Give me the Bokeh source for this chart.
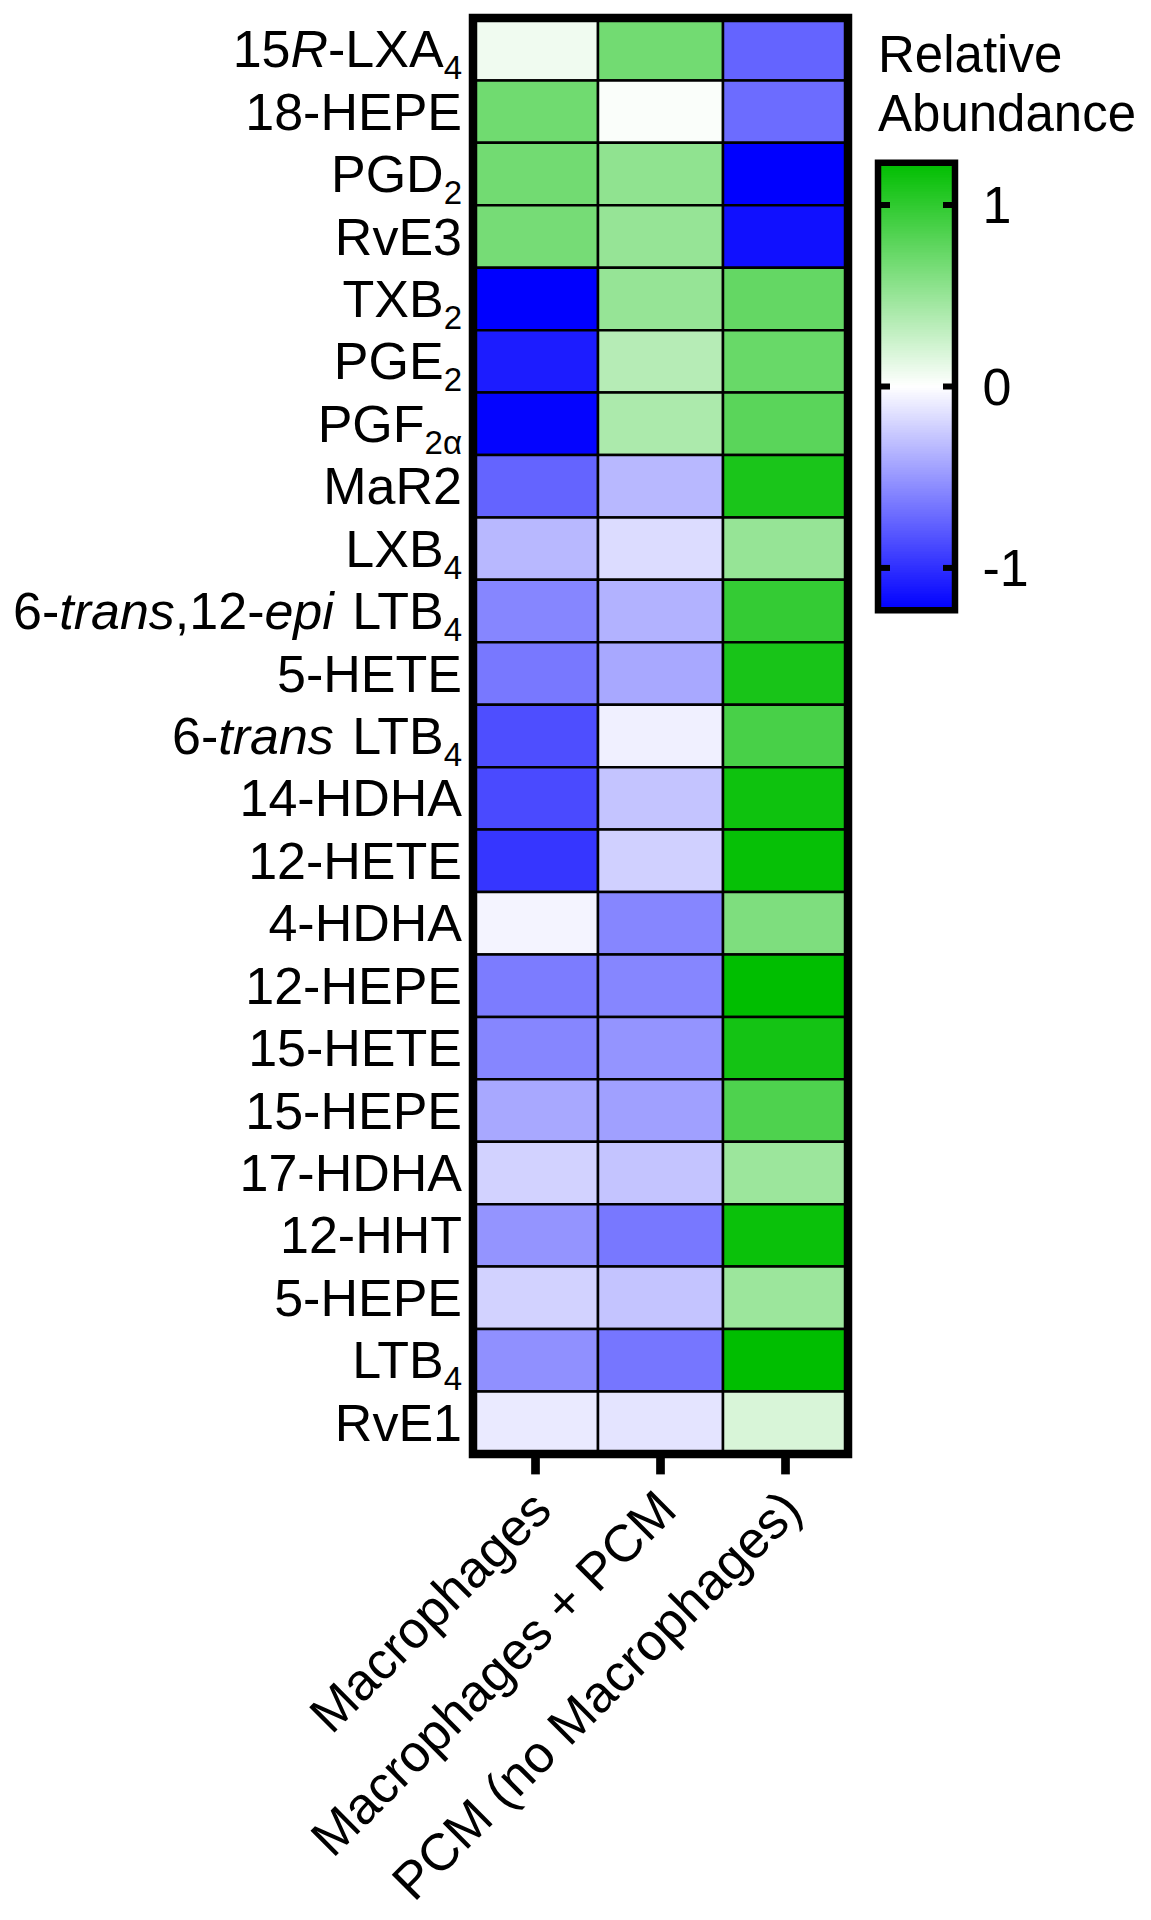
import re
import numpy as np
from bokeh.plotting import figure
from bokeh.models import ColumnDataSource, LinearColorMapper, LabelSet, Range1d
from bokeh.transform import transform
from bokeh.core.properties import value, field
from bokeh.embed import file_html
from bokeh.resources import INLINE

# ---------------- data ----------------
lipids = [
    "15<i>R</i>-LXA<sub>4</sub>", "18-HEPE", "PGD<sub>2</sub>", "RvE3",
    "TXB<sub>2</sub>", "PGE<sub>2</sub>", "PGF<sub>2α</sub>", "MaR2",
    "LXB<sub>4</sub>", "6-<i>trans</i>,12-<i>epi</i> LTB<sub>4</sub>", "5-HETE",
    "6-<i>trans</i> LTB<sub>4</sub>", "14-HDHA", "12-HETE", "4-HDHA", "12-HEPE",
    "15-HETE", "15-HEPE", "17-HDHA", "12-HHT", "5-HEPE", "LTB<sub>4</sub>", "RvE1",
]
groups = ["Macrophages", "Macrophages + PCM", "PCM (no Macrophages)"]
macrophages = [0.07, 0.69, 0.68, 0.66, -1.23, -1.09, -1.21, -0.75, -0.34, -0.58, -0.65,
               -0.85, -0.87, -0.97, -0.05, -0.63, -0.58, -0.42, -0.22, -0.52, -0.22, -0.53, -0.10]
macrophages_pcm = [0.68, 0.02, 0.53, 0.51, 0.51, 0.35, 0.40, -0.34, -0.17, -0.37, -0.42,
                   -0.07, -0.28, -0.23, -0.58, -0.58, -0.52, -0.46, -0.28, -0.65, -0.28, -0.66, -0.13]
pcm = [-0.75, -0.71, -1.23, -1.15, 0.75, 0.73, 0.79, 1.10, 0.51, 0.98, 1.11,
       0.88, 1.16, 1.20, 0.62, 1.23, 1.13, 0.85, 0.48, 1.18, 0.48, 1.23, 0.19]
cbar_ticks = [-1, 0, 1]
cbar_limit = 1.233
cbar_title = ["Relative", "Abundance"]

# ---------------- layout / style constants (pixels) ----------------
W_PX, H_PX = 1151, 1920
HM_LEFT, HM_TOP = 472.5, 17.5
CELL_W, CELL_H = 125.0, 62.43
CB_LEFT, CB_TOP, CB_W, CB_H = 877.5, 162.3, 77.0, 447.4
FONT = "Liberation Sans"
FS = 52
SUB_FS = 33


def make_palette(n=256):
    pal = []
    for i in range(n):
        v = -1 + 2 * i / (n - 1)
        if v < 0:
            a = 1 + v
            r, g, b = 255 * a, 255 * a, 255
        else:
            r, g, b = 255 * (1 - v), 255 - 65 * v, 255 * (1 - v)
        pal.append("#%02x%02x%02x" % (int(round(r)), int(round(g)), int(round(b))))
    return pal


mapper = LinearColorMapper(palette=make_palette(), low=-cbar_limit, high=cbar_limit)

n = len(lipids)
ng = len(groups)

# one frame covering the whole canvas; scales expressed in cell units
p = figure(width=W_PX, height=H_PX,
           x_range=Range1d(-HM_LEFT / CELL_W, (W_PX - HM_LEFT) / CELL_W),
           y_range=Range1d(n - (H_PX - HM_TOP) / CELL_H, n + HM_TOP / CELL_H),
           x_axis_type=None, y_axis_type=None, min_border=0,
           output_backend="svg", toolbar_location=None)
k = 2 * cbar_limit / CB_H
p.extra_x_ranges = {"cbx": Range1d(-CB_LEFT / CB_W, (W_PX - CB_LEFT) / CB_W)}
p.extra_y_ranges = {"cby": Range1d(cbar_limit - (H_PX - CB_TOP) * k, cbar_limit + CB_TOP * k)}
p.outline_line_color = None
p.background_fill_color = "white"
p.border_fill_color = "white"

# ---------------- heatmap cells ----------------
cx, cy, vals = [], [], []
for gi, series in enumerate([macrophages, macrophages_pcm, pcm]):
    for li, v in enumerate(series):
        cx.append(gi + 0.5)
        cy.append(n - 1 - li + 0.5)
        vals.append(v)
p.rect(x="x", y="y", width=1, height=1, source=ColumnDataSource(dict(x=cx, y=cy, value=vals)),
       fill_color=transform("value", mapper), line_color="black", line_width=2.5)

# ticks below the heatmap (one per group)
centers = [gi + 0.5 for gi in range(ng)]
p.segment(x0=centers, y0=[0] * ng, x1=centers, y1=[-20.5 / CELL_H] * ng,
          line_color="black", line_width=8.7, line_cap="butt")

# heavy frame around heatmap
p.rect(x=[ng / 2], y=[n / 2], width=ng, height=n, fill_color=None,
       line_color="black", line_width=8.5, line_join="miter")

# ---------------- y labels with italics / subscripts ----------------
WID = {**{d: 556 for d in "0123456789"}, "-": 333, ",": 278, " ": 278, "(": 333, ")": 333,
       "+": 584, "A": 667, "B": 667, "C": 722, "D": 722, "E": 667, "F": 611, "G": 778,
       "H": 722, "L": 556, "M": 833, "P": 667, "R": 722, "T": 611, "X": 667, "a": 556,
       "e": 556, "i": 222, "n": 556, "p": 556, "r": 333, "s": 500, "t": 278, "v": 500, "α": 579}


def tw(s, size):
    return sum(WID.get(c, 556) for c in s) / 1000.0 * size


lab = dict(x=[], y=[], text=[], xo=[], yo=[], fsize=[], fstyle=[])
GAP = 11
for li, markup in enumerate(lipids):
    segs = []
    for tag, inner, plain in re.findall(r"<(i|sub)>(.*?)</\1>|([^<]+)", markup):
        segs.append((inner, tag) if tag else (plain, ""))
    cum = 0.0
    for text, tag in reversed(segs):
        size = SUB_FS if tag == "sub" else FS
        w = tw(text, size)
        trailing = tw(text[len(text.rstrip()):], size)
        vis = text.strip()
        if vis:
            lab["x"].append(0)
            lab["y"].append(n - 1 - li + 0.5)
            lab["text"].append(vis)
            lab["xo"].append(-(GAP + cum + trailing))
            lab["yo"].append(-30 if tag == "sub" else -18)
            lab["fsize"].append("%dpx" % size)
            lab["fstyle"].append("italic" if tag == "i" else "normal")
        cum += w

p.add_layout(LabelSet(x="x", y="y", text="text", x_offset="xo", y_offset="yo",
                      source=ColumnDataSource(lab), text_font=value(FONT),
                      text_font_size=field("fsize"), text_font_style=field("fstyle"),
                      text_align="right", text_baseline="alphabetic", text_color="black"))

# ---------------- rotated x labels ----------------
p.add_layout(LabelSet(x="x", y="y", text="text",
                      source=ColumnDataSource(dict(x=centers, y=[0] * ng, text=groups)),
                      angle=np.pi / 4, x_offset=6, y_offset=-46, text_font=value(FONT),
                      text_font_size="%dpx" % FS, text_align="right",
                      text_baseline="middle", text_color="black"))

# ---------------- colour bar ----------------
grad = np.linspace(-cbar_limit, cbar_limit, 512).reshape(-1, 1)
p.image(image=[grad], x=0, y=-cbar_limit, dw=1, dh=2 * cbar_limit, color_mapper=mapper,
        x_range_name="cbx", y_range_name="cby")
nt = len(cbar_ticks)
tick_len = 12 / CB_W
p.segment(x0=[0] * nt, y0=cbar_ticks, x1=[tick_len] * nt, y1=cbar_ticks,
          line_color="black", line_width=6, line_cap="butt",
          x_range_name="cbx", y_range_name="cby")
p.segment(x0=[1 - tick_len] * nt, y0=cbar_ticks, x1=[1] * nt, y1=cbar_ticks,
          line_color="black", line_width=6, line_cap="butt",
          x_range_name="cbx", y_range_name="cby")
p.rect(x=[0.5], y=[0], width=1, height=2 * cbar_limit, fill_color=None,
       line_color="black", line_width=6.5, line_join="miter",
       x_range_name="cbx", y_range_name="cby")
p.add_layout(LabelSet(x="x", y="y", text="text",
                      source=ColumnDataSource(dict(x=[1] * nt, y=cbar_ticks,
                                                   text=[str(t) for t in cbar_ticks])),
                      x_offset=27.5, text_font=value(FONT), text_font_size="%dpx" % FS,
                      text_align="left", text_baseline="middle", text_color="black",
                      x_range_name="cbx", y_range_name="cby"))
p.add_layout(LabelSet(x="x", y="y", text="text", y_offset="yo",
                      source=ColumnDataSource(dict(x=[0, 0], y=[cbar_limit] * 2,
                                                   text=cbar_title, yo=[91, 32])),
                      text_font=value(FONT), text_font_size="51px",
                      text_align="left", text_baseline="alphabetic", text_color="black",
                      x_range_name="cbx", y_range_name="cby"))

open("out.html", "w").write(file_html(p, INLINE))
